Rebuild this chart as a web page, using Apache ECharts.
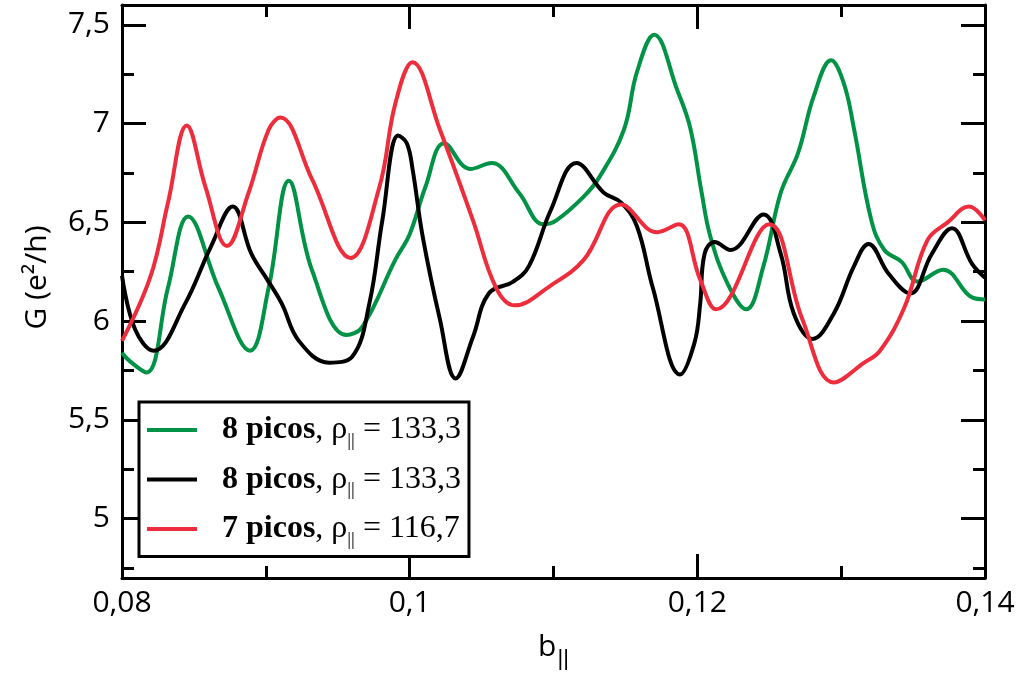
<!DOCTYPE html>
<html>
<head>
<meta charset="utf-8">
<script src="https://cdn.jsdelivr.net/npm/echarts@6/dist/echarts.min.js"></script>
<style>
html, body { margin: 0; padding: 0; background: #fff; }
#chart { width: 1021px; height: 677px; }
</style>
</head>
<body>
<div id="chart"></div>
<script>
// valores
var xGreen = [0.0800, 0.0805, 0.0817, 0.0832, 0.0846, 0.0867, 0.0889, 0.0902, 0.0916, 0.0932, 0.0956, 0.0967, 0.0990, 0.1000,
              0.1011, 0.1024, 0.1042, 0.1057, 0.1076, 0.1093, 0.1102, 0.1121, 0.1132, 0.1149, 0.1158, 0.1170, 0.1186, 0.1195,
              0.1203, 0.1209, 0.1221, 0.1234, 0.1246, 0.1258, 0.1270, 0.1281, 0.1293, 0.1302, 0.1309, 0.1321, 0.1330, 0.1342,
              0.1353, 0.1371, 0.1391, 0.1400];
var yGreen = [5.84, 5.80, 5.74, 6.17, 6.53, 6.17, 5.85, 6.17, 6.71, 6.26, 5.93, 5.97, 6.31, 6.44,
              6.68, 6.90, 6.77, 6.80, 6.65, 6.49, 6.51, 6.63, 6.73, 6.97, 7.26, 7.45, 7.17, 6.98,
              6.65, 6.43, 6.19, 6.06, 6.28, 6.65, 6.85, 7.14, 7.32, 7.20, 6.97, 6.51, 6.36, 6.30,
              6.20, 6.26, 6.12, 6.11];

var xBlack = [0.0800, 0.0809, 0.0822, 0.0844, 0.0862, 0.0877, 0.0890, 0.0901, 0.0911, 0.0923, 0.0944, 0.0960, 0.0972, 0.0981,
              0.0992, 0.0998, 0.1002, 0.1009, 0.1021, 0.1032, 0.1044, 0.1055, 0.1072, 0.1083, 0.1098, 0.1116, 0.1135, 0.1147,
              0.1158, 0.1169, 0.1188, 0.1198, 0.1202, 0.1205, 0.1212, 0.1223, 0.1246, 0.1258, 0.1267, 0.1280, 0.1295, 0.1309,
              0.1319, 0.1333, 0.1348, 0.1363, 0.1377, 0.1391, 0.1400];
var yBlack = [6.23, 5.96, 5.85, 6.09, 6.38, 6.58, 6.34, 6.21, 6.09, 5.90, 5.79, 5.82, 6.09, 6.51,
              6.94, 6.90, 6.77, 6.43, 6.01, 5.71, 5.92, 6.14, 6.20, 6.28, 6.56, 6.80, 6.65, 6.60,
              6.48, 6.17, 5.73, 5.89, 6.09, 6.34, 6.40, 6.36, 6.54, 6.34, 6.04, 5.91, 6.04, 6.28,
              6.39, 6.24, 6.14, 6.34, 6.47, 6.29, 6.22];

var xRed = [0.0800, 0.0820, 0.0832, 0.0845, 0.0858, 0.0873, 0.0888, 0.0902, 0.0910, 0.0932, 0.0959, 0.0979, 0.0990, 0.1002,
            0.1021, 0.1044, 0.1060, 0.1073, 0.1098, 0.1121, 0.1147, 0.1172, 0.1187, 0.1202, 0.1213, 0.1250, 0.1273, 0.1295,
            0.1316, 0.1327, 0.1344, 0.1360, 0.1374, 0.1389, 0.1400];
var yRed = [5.90, 6.23, 6.60, 6.99, 6.68, 6.38, 6.65, 6.97, 7.03, 6.72, 6.32, 6.68, 7.10, 7.31,
            6.97, 6.51, 6.17, 6.08, 6.18, 6.31, 6.59, 6.45, 6.49, 6.21, 6.06, 6.49, 6.01, 5.69,
            5.79, 5.85, 6.07, 6.41, 6.50, 6.58, 6.51];

var legendBold = ['8 picos', '8 picos', '7 picos'];
var legendRho = ['133,3', '133,3', '116,7'];
var seriesColors = ['#009245', '#000000', '#ee2d3c'];

var xMajor = [0.08, 0.1, 0.12, 0.14];
var xMinor = [0.09, 0.11, 0.13];
var yMajor = [5, 5.5, 6, 6.5, 7, 7.5];
var yMinor = [4.75, 5.25, 5.75, 6.25, 6.75, 7.25];

function pares(xs, ys) {
    var out = [];
    for (var i = 0; i < xs.length; i++) out.push([xs[i], ys[i]]);
    return out;
}

function virgula(v) {
    return String(+v.toFixed(4)).replace('.', ',');
}

var myChart = echarts.init(document.getElementById('chart'));

var sans = 'Open Sans';
var serif = 'Liberation Serif';

function eixoX(pos, vals, len, comLinha, comLabel) {
    return {
        type: 'value', position: pos, min: 0.08, max: 0.14, gridIndex: 0,
        axisLine: { show: comLinha, lineStyle: { color: '#000', width: 3 } },
        axisTick: { show: true, inside: true, length: len, customValues: vals,
                    lineStyle: { color: '#000', width: 3 } },
        axisLabel: { show: comLabel, customValues: xMajor, formatter: virgula,
                     fontFamily: sans, fontSize: 30, color: '#000', margin: 10 },
        splitLine: { show: false }
    };
}

function eixoY(pos, vals, len, comLinha, comLabel) {
    return {
        type: 'value', position: pos, min: 4.7, max: 7.6, gridIndex: 0,
        axisLine: { show: comLinha, lineStyle: { color: '#000', width: 3 } },
        axisTick: { show: true, inside: true, length: len, customValues: vals,
                    lineStyle: { color: '#000', width: 3 } },
        axisLabel: { show: comLabel, customValues: yMajor, formatter: virgula,
                     fontFamily: sans, fontSize: 30, color: '#000', margin: 12 },
        splitLine: { show: false }
    };
}

var xAxes = [
    eixoX('bottom', xMajor, 24, true, true),
    eixoX('bottom', xMinor, 12, false, false),
    eixoX('top', xMajor, 24, true, false),
    eixoX('top', xMinor, 12, false, false)
];
xAxes[0].name = '{b|b}{s|||}';
xAxes[0].nameLocation = 'middle';
xAxes[0].nameGap = 46;
xAxes[0].nameTextStyle = {
    rich: {
        b: { fontFamily: sans, fontSize: 30, color: '#000' },
        s: { fontFamily: 'Liberation Sans', fontSize: 22, color: '#000', padding: [24, 0, 0, 1] }
    }
};

var yAxes = [
    eixoY('left', yMajor, 24, true, true),
    eixoY('left', yMinor, 12, false, false),
    eixoY('right', yMajor, 24, true, false),
    eixoY('right', yMinor, 12, false, false)
];
yAxes[0].name = 'G (e²/h)';
yAxes[0].nameLocation = 'middle';
yAxes[0].nameGap = 70;
yAxes[0].nameTextStyle = { fontFamily: sans, fontSize: 30, color: '#000', padding: [0, 0, 0, 28] };

var nomes = ['A', 'B', 'C'];
var dados = [pares(xGreen, yGreen), pares(xBlack, yBlack), pares(xRed, yRed)];

var series = [];
for (var i = 0; i < 3; i++) {
    series.push({
        name: nomes[i],
        type: 'line',
        xAxisIndex: 0,
        yAxisIndex: 0,
        data: dados[i],
        showSymbol: false,
        symbol: 'none',
        smooth: 0.4,
        lineStyle: { color: seriesColors[i], width: 4 },
        itemStyle: { color: seriesColors[i] }
    });
}

var option = {
    animation: false,
    backgroundColor: '#fff',
    grid: { left: 122, top: 5, right: 36, bottom: 99 },
    xAxis: xAxes,
    yAxis: yAxes,
    legend: {
        orient: 'vertical',
        left: 139,
        top: 402,
        data: nomes,
        icon: 'rect',
        itemWidth: 50,
        itemHeight: 4,
        itemGap: 13,
        padding: [12, 8, 7, 8],
        backgroundColor: '#fff',
        borderColor: '#000',
        borderWidth: 3,
        formatter: function (name) {
            var k = nomes.indexOf(name);
            return '{b|' + legendBold[k] + '}{r|, ρ}{s|||}{r| = ' + legendRho[k] + '}';
        },
        textStyle: {
            padding: [0, 0, 0, 20],
            rich: {
                b: { fontFamily: serif, fontWeight: 'bold', fontSize: 32, color: '#000' },
                r: { fontFamily: serif, fontSize: 32, color: '#000' },
                s: { fontFamily: serif, fontSize: 19, color: '#000', padding: [22, 0, 0, 0] }
            }
        }
    },
    series: series
};

myChart.setOption(option);
</script>
</body>
</html>
